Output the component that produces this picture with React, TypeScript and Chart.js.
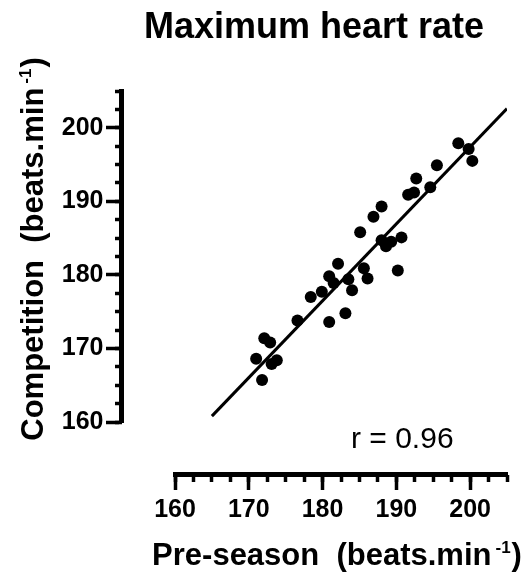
import React, { useEffect, useRef } from "react";
import { Chart, registerables } from "chart.js";

Chart.register(...registerables);

// ---- data ----
const preSeason = [
  198.4, 199.8, 200.3, 195.5, 192.7, 194.6, 191.6, 192.4, 188.0, 186.9,
  185.1, 188.0, 188.6, 189.3, 190.7, 190.2, 182.1, 180.9, 181.5, 183.5,
  185.6, 186.1, 184.0, 179.9, 178.4, 183.1, 180.9, 176.6, 172.1, 172.9,
  171.0, 173.1, 173.8, 171.8,
];
const competition = [
  197.9, 197.1, 195.5, 194.9, 193.1, 191.9, 190.9, 191.2, 189.3, 187.9,
  185.8, 184.7, 183.9, 184.5, 185.1, 180.6, 181.5, 179.8, 178.9, 179.4,
  180.9, 179.5, 177.9, 177.7, 177.0, 174.8, 173.6, 173.8, 171.4, 170.8,
  168.6, 167.9, 168.4, 165.7,
];
const fitX = [165, 205];
const fitY = [160.8, 202.6];

const axisMin = 160;
const axisMax = 205;
const majorStep = 10;
const minorStep = 2.5;
const axisCross = 152.8; // where the detached axes sit, in data units
const yLabelEdge = 150.3; // right edge of the y tick labels, in x data units

const chartTitle = "Maximum heart rate";
const xTitleMain = "Pre-season  (beats.min";
const yTitleMain = "Competition  (beats.min";
const titleSup = "-1";
const titleTail = ")";
const rText = "r = 0.96";

const FONT = "'Liberation Sans', Arial, Helvetica, sans-serif";

function drawSupTitle(ctx: CanvasRenderingContext2D, cx: number, baseline: number, main: string) {
  ctx.font = `bold 31px ${FONT}`;
  const w1 = ctx.measureText(main).width + 4;
  const w3 = ctx.measureText(titleTail).width;
  ctx.font = `bold 17px ${FONT}`;
  const w2 = ctx.measureText(titleSup).width + 1;
  const total = w1 + w2 + w3;
  let x = cx - total / 2;
  ctx.textAlign = "left";
  ctx.textBaseline = "alphabetic";
  ctx.font = `bold 31px ${FONT}`;
  ctx.fillText(main, x, baseline);
  x += w1;
  ctx.font = `bold 17px ${FONT}`;
  ctx.fillText(titleSup, x, baseline - 12);
  x += w2;
  ctx.font = `bold 31px ${FONT}`;
  ctx.fillText(titleTail, x, baseline);
}

const textPlugin = {
  id: "textPlugin",
  afterDraw(chart: any) {
    const ctx: CanvasRenderingContext2D = chart.ctx;
    const a = chart.chartArea;
    ctx.save();
    ctx.fillStyle = "#000";
    // title
    ctx.font = `bold 36px ${FONT}`;
    ctx.textAlign = "center";
    ctx.textBaseline = "alphabetic";
    ctx.fillText(chartTitle, a.left + 139, a.top - 53);
    // x title
    drawSupTitle(ctx, a.left + 162, a.bottom + 143, xTitleMain);
    // y title
    ctx.save();
    ctx.translate(a.left - 132, a.top + 158);
    ctx.rotate(-Math.PI / 2);
    drawSupTitle(ctx, 0, 0, yTitleMain);
    ctx.restore();
    // r value
    ctx.font = `30px ${FONT}`;
    ctx.textAlign = "left";
    ctx.textBaseline = "alphabetic";
    ctx.fillText(rText, a.left + 176, a.bottom + 26);
    ctx.restore();
  },
};

export default function App() {
  const ref = useRef<HTMLCanvasElement | null>(null);

  useEffect(() => {
    if (!ref.current) return;
    const tickFont = { family: FONT, size: 25, weight: "bold" as const };
    const chart = new Chart(ref.current, {
      type: "scatter",
      data: {
        datasets: [
          {
            type: "scatter",
            data: preSeason.map((x, i) => ({ x, y: competition[i] })),
            backgroundColor: "#000",
            borderColor: "#000",
            pointRadius: 6,
            pointBorderWidth: 0,
          },
          {
            type: "line",
            data: fitX.map((x, i) => ({ x, y: fitY[i] })),
            borderColor: "#000",
            borderWidth: 3,
            pointRadius: 0,
            fill: false,
          } as any,
        ],
      },
      options: {
        responsive: false,
        animation: false,
        devicePixelRatio: 1,
        layout: { padding: { left: 175, right: 21, top: 91, bottom: 151 } },
        plugins: { legend: { display: false }, tooltip: { enabled: false }, title: { display: false } },
        scales: {
          x: {
            type: "linear",
            min: axisMin,
            max: axisMax,
            position: { y: axisCross } as any,
            ticks: { stepSize: majorStep, includeBounds: false, font: tickFont, color: "#000", padding: 7 },
            grid: { drawOnChartArea: false, drawTicks: true, tickLength: 13, tickWidth: 3.5, tickColor: "#000" },
            border: { display: true, width: 5, color: "#000" },
          },
          xMinor: {
            type: "linear",
            axis: "x",
            min: axisMin,
            max: axisMax,
            position: { y: axisCross } as any,
            ticks: { stepSize: minorStep, display: false },
            grid: { drawOnChartArea: false, drawTicks: true, tickLength: 7, tickWidth: 3.5, tickColor: "#000" },
            border: { display: false },
          },
          y: {
            type: "linear",
            min: axisMin,
            max: axisMax,
            position: { x: axisCross } as any,
            ticks: { stepSize: majorStep, includeBounds: false, display: false },
            grid: { drawOnChartArea: false, drawTicks: true, tickLength: 13, tickWidth: 3.5, tickColor: "#000" },
            border: { display: true, width: 5, color: "#000" },
          },
          yMinor: {
            type: "linear",
            axis: "y",
            min: axisMin,
            max: axisMax,
            position: { x: axisCross } as any,
            ticks: { stepSize: minorStep, display: false },
            grid: { drawOnChartArea: false, drawTicks: true, tickLength: 7, tickWidth: 3.5, tickColor: "#000" },
            border: { display: false },
          },
          yLabels: {
            type: "linear",
            axis: "y",
            min: axisMin,
            max: axisMax,
            position: { x: yLabelEdge } as any,
            ticks: { stepSize: majorStep, includeBounds: false, font: tickFont, color: "#000", padding: 0 },
            grid: { display: false, drawTicks: false, drawOnChartArea: false },
            border: { display: false },
          },
        } as any,
      },
      plugins: [textPlugin],
    });
    return () => chart.destroy();
  }, []);

  return (
    <div style={{ position: "fixed", left: 0, top: 0, width: 528, height: 573, background: "#fff" }}>
      <canvas ref={ref} width={528} height={573} style={{ display: "block" }} />
    </div>
  );
}
